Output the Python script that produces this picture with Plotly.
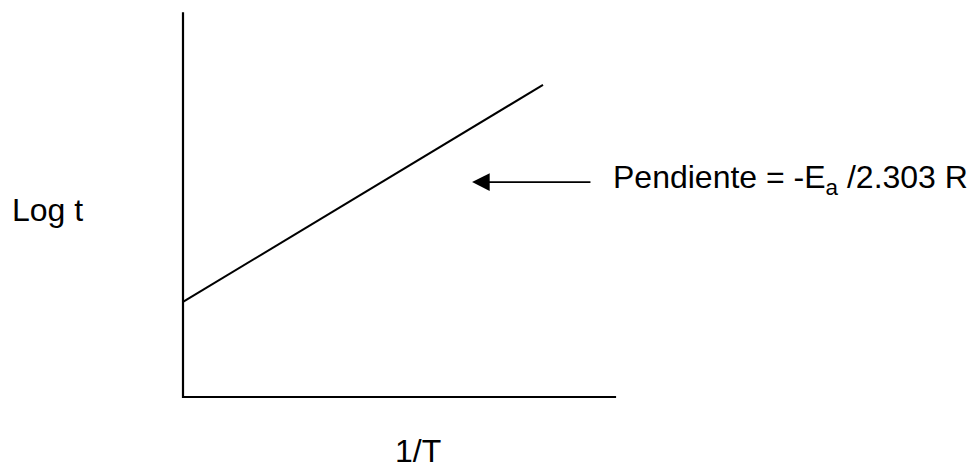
import plotly.graph_objects as go

# Arrhenius-type plot: log t against 1/T (schematic, arbitrary units)
inv_T = [0.0, 10.0]
log_t = [2.64, 8.67]

# axis extents (arbitrary units)
x_axis_end = 12.03
y_axis_end = 10.69

# slope callout
slope_label = "Pendiente = -E<sub>a</sub> /2.303 R"
arrow_tail = (11.36, 5.97)
arrow_tip = (8.03, 5.97)

fig = go.Figure()

# the two axes drawn as plain lines
fig.add_trace(go.Scatter(x=[0, 0, x_axis_end], y=[y_axis_end, 0, 0],
                         mode="lines", line=dict(color="black", width=2.2),
                         hoverinfo="skip", showlegend=False))

# the straight line log t vs 1/T
fig.add_trace(go.Scatter(x=inv_T, y=log_t, mode="lines",
                         line=dict(color="black", width=2),
                         hoverinfo="skip", showlegend=False))

font = dict(family="Liberation Sans, Arial, sans-serif", size=32, color="black")

fig.add_annotation(x=arrow_tip[0], y=arrow_tip[1], ax=arrow_tail[0], ay=arrow_tail[1],
                   xref="x", yref="y", axref="x", ayref="y", text="",
                   showarrow=True, arrowhead=2, arrowsize=2.2, arrowwidth=1.6,
                   arrowcolor="black")
fig.add_annotation(x=11.88, y=6.05, xref="x", yref="y", text=slope_label,
                   showarrow=False, xanchor="left", yanchor="middle", font=font)
fig.add_annotation(x=-3.77, y=5.2, xref="x", yref="y", text="Log t",
                   showarrow=False, xanchor="center", yanchor="middle", font=font)
fig.add_annotation(x=6.54, y=-1.5, xref="x", yref="y", text="1/T",
                   showarrow=False, xanchor="center", yanchor="middle", font=font)

fig.update_xaxes(range=[-183 / 36, (971 - 183) / 36], visible=False)
fig.update_yaxes(range=[-71 / 36, 397 / 36], visible=False)
fig.update_layout(width=971, height=468, margin=dict(l=0, r=0, t=0, b=0),
                  plot_bgcolor="white", paper_bgcolor="white")

fig.write_html("out.html")
